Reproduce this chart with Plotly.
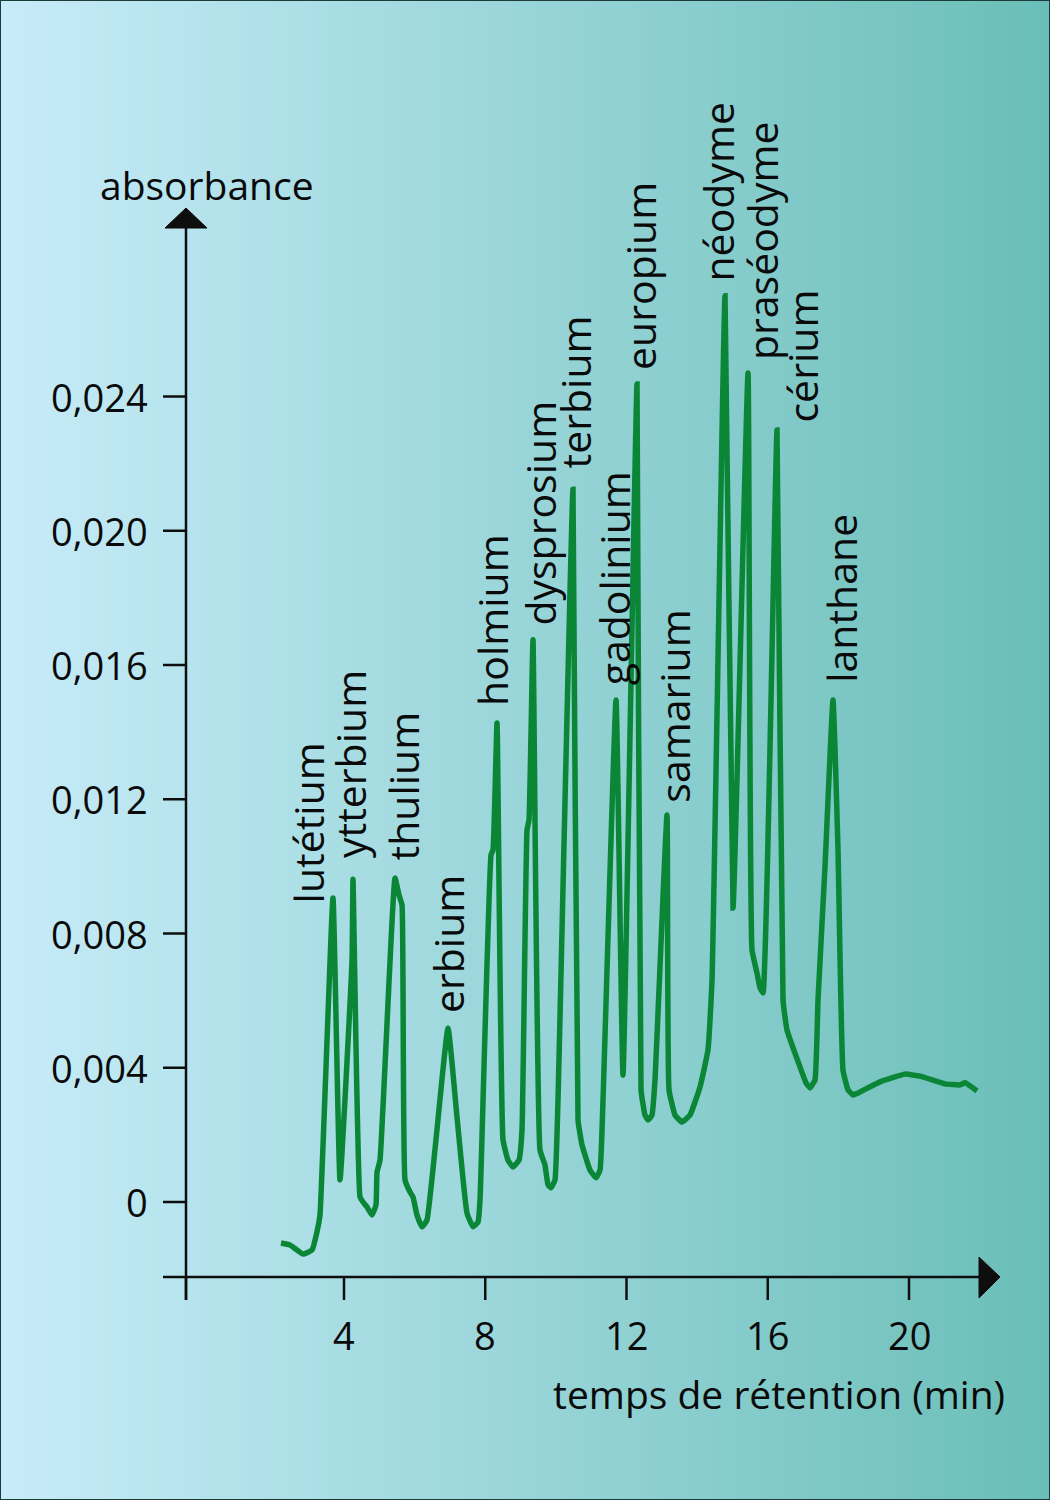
import plotly.graph_objects as go

# ---------------- data ----------------
time_min = [2.216, 2.47, 2.839, 3.094, 3.235, 3.32, 3.688, 3.887, 4.227, 4.255,
            4.453, 4.538, 4.651, 4.793, 4.906, 4.935, 5.02, 5.444, 5.557, 5.643,
            5.728, 5.869, 5.954, 6.067, 6.209, 6.35, 6.945, 7.2, 7.483, 7.653,
            7.795, 7.852, 8.163, 8.22, 8.333, 8.503, 8.644, 8.786, 8.956, 9.041,
            9.183, 9.239, 9.352, 9.55, 9.692, 9.777, 9.862, 9.975, 10.06, 10.485,
            10.627, 10.74, 10.967, 11.137, 11.25, 11.335, 11.703, 11.901, 12.298, 12.411,
            12.524, 12.609, 12.722, 12.807, 13.147, 13.204, 13.374, 13.572, 13.799, 14.082,
            14.308, 14.422, 14.79, 15.017, 15.441, 15.554, 15.696, 15.781, 15.866, 16.262,
            16.432, 16.546, 16.914, 17.084, 17.197, 17.338, 17.423, 17.621, 17.848, 17.99,
            18.131, 18.273, 18.415, 18.613, 19.179, 19.887, 20.312, 21.02, 21.445, 21.586,
            21.926]
absorbance = [-0.00122, -0.00128, -0.00155, -0.00143, -0.00089, -0.00039, 0.00906, 0.00066, 0.00721, 0.00962,
              0.00015, 0.0, -0.00015, -0.00039, -0.00009, 0.00089, 0.00125, 0.00965, 0.00915, 0.00885,
              0.00066, 0.0003, 0.00015, -0.00039, -0.00074, -0.00054, 0.00518, 0.00253, -0.00033, -0.00074,
              -0.0006, 0.00006, 0.01034, 0.01049, 0.01427, 0.00185, 0.00125, 0.00104, 0.00125, 0.00215,
              0.01108, 0.01138, 0.01675, 0.00155, 0.0011, 0.00051, 0.00042, 0.00066, 0.00304, 0.02124,
              0.00244, 0.0017, 0.00095, 0.00072, 0.00095, 0.00304, 0.01496, 0.00378, 0.02437, 0.00334,
              0.00259, 0.00244, 0.00259, 0.00364, 0.01153, 0.00334, 0.00259, 0.00238, 0.00259, 0.00343,
              0.00453, 0.00662, 0.027, 0.00876, 0.0247, 0.00751, 0.00682, 0.00638, 0.00623, 0.023,
              0.00602, 0.00512, 0.00402, 0.00355, 0.0034, 0.00364, 0.00602, 0.00998, 0.01496, 0.01049,
              0.00393, 0.00334, 0.00319, 0.00328, 0.00358, 0.00381, 0.00375, 0.00352, 0.00349, 0.00355,
              0.00331]

element_names = ["lutétium", "ytterbium", "thulium", "erbium", "holmium", "dysprosium",
                 "terbium", "gadolinium", "europium", "samarium", "néodyme", "praséodyme",
                 "cérium", "lanthane"]
label_time = [2.98, 4.17, 5.67, 6.945, 8.19, 9.55, 10.54, 11.65, 12.38, 13.35,
              14.59, 15.84, 16.97, 18.05]
label_abs = [0.00885, 0.01019, 0.01013, 0.00557, 0.01472, 0.01713, 0.02181, 0.01534,
             0.02473, 0.01183, 0.02738, 0.02503, 0.02315, 0.0154]

y_tick_vals = [0, 0.004, 0.008, 0.012, 0.016, 0.020, 0.024]
y_tick_text = ["0", "0,004", "0,008", "0,012", "0,016", "0,020", "0,024"]
x_tick_vals = [4, 8, 12, 16, 20]
x_tick_text = ["4", "8", "12", "16", "20"]

y_title = "absorbance"
x_title = "temps de rétention (min)"

# ---------------- layout geometry ----------------
W, H = 1050, 1500
PX_PER_MIN = 565 / 16.0           # pixels per minute
PX_X4 = 344                       # pixel position of t = 4
PX_PER_ABS = 134.25 / 0.004       # pixels per absorbance unit
PY_Y0 = 1202                      # pixel position of A = 0


def tx(px):
    return 4 + (px - PX_X4) / PX_PER_MIN


def ay(py):
    return (PY_Y0 - py) / PX_PER_ABS


X_RANGE = [tx(0), tx(W)]
Y_RANGE = [ay(H), ay(0)]

FONT = "Open Sans, Liberation Sans, Arial, sans-serif"
FS_TICK = 38
FS_TITLE = 39
FS_LABEL = 41
TXT = "#0a0a0a"
AX = "#0e0e0e"

fig = go.Figure()

fig.add_trace(go.Scatter(
    x=time_min, y=absorbance, mode="lines",
    line=dict(color="#0a8636", width=5.5, shape="spline", smoothing=0.35),
    hoverinfo="skip", showlegend=False,
))

shapes = []
# background gradient
N = 105
c0 = (199, 236, 249)
c1 = (106, 190, 184)
for i in range(N):
    f = (i + 0.5) / N
    col = "rgb(%d,%d,%d)" % tuple(round(c0[k] + (c1[k] - c0[k]) * f) for k in range(3))
    shapes.append(dict(type="rect", xref="paper", yref="paper",
                       x0=i / N, x1=(i + 1) / N + 0.002, y0=0, y1=1,
                       fillcolor=col, line=dict(width=0), layer="below"))
# border
shapes.append(dict(type="rect", xref="paper", yref="paper", x0=0, x1=1, y0=0, y1=1,
                   line=dict(color="#1d3b3b", width=2), fillcolor="rgba(0,0,0,0)", layer="above"))

# axes
ox, oy = tx(186), ay(1277)
shapes.append(dict(type="line", xref="x", yref="y", x0=ox, x1=ox, y0=ay(1300), y1=ay(228),
                   line=dict(color=AX, width=2.5)))
shapes.append(dict(type="line", xref="x", yref="y", x0=tx(163), x1=tx(982), y0=oy, y1=oy,
                   line=dict(color=AX, width=2.5)))
# arrows
shapes.append(dict(type="path", xref="x", yref="y",
                   path="M %f,%f L %f,%f L %f,%f Z" % (tx(165), ay(228), tx(207), ay(228), tx(186), ay(208)),
                   fillcolor=AX, line=dict(color=AX, width=1)))
shapes.append(dict(type="path", xref="x", yref="y",
                   path="M %f,%f L %f,%f L %f,%f Z" % (tx(979), ay(1257), tx(979), ay(1298), tx(1000), ay(1277)),
                   fillcolor=AX, line=dict(color=AX, width=1)))
# y ticks
for v in y_tick_vals:
    shapes.append(dict(type="line", xref="x", yref="y", x0=tx(163), x1=ox, y0=v, y1=v,
                       line=dict(color=AX, width=2.5)))
# x ticks (plus the origin tick)
for v in [ox] + x_tick_vals:
    shapes.append(dict(type="line", xref="x", yref="y", x0=v, x1=v, y0=oy, y1=ay(1300),
                       line=dict(color=AX, width=2.5)))

annotations = []
for v, t in zip(y_tick_vals, y_tick_text):
    annotations.append(dict(x=tx(150), y=v, xref="x", yref="y", text=t, showarrow=False,
                            xanchor="right", yanchor="middle",
                            font=dict(family=FONT, size=FS_TICK, color=TXT)))
for v, t in zip(x_tick_vals, x_tick_text):
    annotations.append(dict(x=v, y=ay(1335), xref="x", yref="y", text=t, showarrow=False,
                            xanchor="center", yanchor="middle",
                            font=dict(family=FONT, size=FS_TICK, color=TXT)))
annotations.append(dict(x=tx(98), y=ay(184), xref="x", yref="y", text=y_title, showarrow=False,
                        xanchor="left", yanchor="middle", font=dict(family=FONT, size=FS_TITLE, color=TXT)))
annotations.append(dict(x=tx(1007), y=ay(1393), xref="x", yref="y", text=x_title, showarrow=False,
                        xanchor="right", yanchor="middle", font=dict(family=FONT, size=FS_TITLE, color=TXT)))
for name, lt, la in zip(element_names, label_time, label_abs):
    annotations.append(dict(x=lt, y=la, xref="x", yref="y", text=name, showarrow=False,
                            textangle=-90, xanchor="center", yanchor="bottom",
                            font=dict(family=FONT, size=FS_LABEL, color=TXT)))

fig.update_layout(
    width=W, height=H,
    margin=dict(l=0, r=0, t=0, b=0),
    paper_bgcolor="#9fd6dc", plot_bgcolor="rgba(0,0,0,0)",
    xaxis=dict(range=X_RANGE, visible=False, fixedrange=True),
    yaxis=dict(range=Y_RANGE, visible=False, fixedrange=True),
    shapes=shapes, annotations=annotations,
    showlegend=False,
)

fig.write_html("out.html", config={"displayModeBar": False},
               post_script="document.body.style.margin='0';document.body.style.padding='0';")
